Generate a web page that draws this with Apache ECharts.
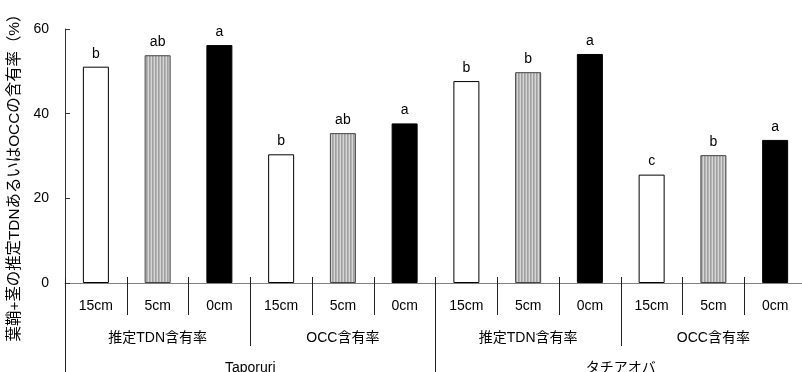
<!DOCTYPE html>
<html>
<head>
<meta charset="utf-8">
<script src="https://cdn.jsdelivr.net/npm/echarts@6/dist/echarts.min.js"></script>
<style>html,body{margin:0;padding:0;background:#fff;}#c{width:802px;height:372px;}</style>
</head>
<body>
<div id="c"></div>
<script>
const depths = ['15cm','5cm','0cm','15cm','5cm','0cm','15cm','5cm','0cm','15cm','5cm','0cm'];
const measures = ['推定TDN含有率','OCC含有率','推定TDN含有率','OCC含有率'];
const varieties = ['Taporuri','タチアオバ'];
const values = [51.1, 53.8, 56.2, 30.4, 35.4, 37.7, 47.7, 49.8, 54.1, 25.6, 30.2, 33.8];
const letters = ['b','ab','a','b','ab','a','b','b','a','c','b','a'];
const yTicks = [0, 20, 40, 60];

const FONT = '"Liberation Sans", Arial, "Noto Sans CJK JP", sans-serif';

// striped pattern for the 5cm bars
const pc = document.createElement('canvas');
pc.width = 3; pc.height = 4;
const px = pc.getContext('2d');
const cols = ['#b4b4b4', '#d6d6d6', '#a0a0a0'];
cols.forEach((c, i) => { px.fillStyle = c; px.fillRect(i, 0, 1, 4); });

function styleFor(i) {
  const k = i % 3;
  if (k === 0) return { color: '#ffffff', borderColor: '#000000', borderWidth: 1 };
  if (k === 1) return { color: { image: pc, repeat: 'repeat' }, borderColor: '#444444', borderWidth: 1 };
  return { color: '#000000', borderColor: '#000000', borderWidth: 1 };
}

const chart = echarts.init(document.getElementById('c'), null, { renderer: 'canvas' });
const tickColor = '#222';
chart.setOption({
  animation: false,
  textStyle: { fontFamily: FONT },
  grid: { left: 65, top: 29, width: 741, height: 254, containLabel: false, outerBoundsMode: 'none' },
  xAxis: [
    {
      type: 'category', data: depths, position: 'bottom',
      axisLine: { show: true, lineStyle: { color: '#808080', width: 1 } },
      axisTick: { show: true, alignWithLabel: false, interval: 0, length: 32, lineStyle: { color: tickColor } },
      axisLabel: { interval: 0, margin: 16, fontSize: 14, color: '#000', fontFamily: FONT }
    },
    {
      type: 'category', data: measures, position: 'bottom',
      axisLine: { show: false },
      axisTick: { show: true, interval: 0, length: 63, lineStyle: { color: tickColor } },
      axisLabel: { interval: 0, margin: 48, fontSize: 14, color: '#000', fontFamily: FONT }
    },
    {
      type: 'category', data: varieties, position: 'bottom',
      axisLine: { show: false },
      axisTick: { show: true, interval: 0, length: 100, lineStyle: { color: tickColor } },
      axisLabel: { interval: 0, margin: 78, fontSize: 14, color: '#000', fontFamily: FONT }
    },
    {
      type: 'category', data: depths, position: 'bottom',
      axisLine: { show: false },
      axisTick: { show: true, inside: true, interval: 0, length: 6, lineStyle: { color: tickColor } },
      axisLabel: { show: false }
    }
  ],
  yAxis: {
    type: 'value', min: 0, max: 60, interval: 20,
    name: '葉鞘+茎の推定TDNあるいはOCCの含有率（%）',
    nameLocation: 'middle', nameRotate: 90, nameGap: 41,
    nameTextStyle: { fontSize: 15.4, color: '#000', fontFamily: FONT, padding: [0, 36, 0, 0] },
    axisLine: { show: true, lineStyle: { color: '#333', width: 1 } },
    axisTick: { show: true, inside: true, length: 5, lineStyle: { color: '#333' } },
    axisLabel: { fontSize: 14, color: '#000', margin: 16, fontFamily: FONT,
      customValues: yTicks },
    splitLine: { show: false }
  },
  series: [{
    type: 'bar', xAxisIndex: 0, barWidth: 26,
    data: values.map((v, i) => ({ value: v, itemStyle: styleFor(i) })),
    label: {
      show: true, position: 'top', distance: 6, fontSize: 14, color: '#000', fontFamily: FONT,
      formatter: p => letters[p.dataIndex]
    }
  }]
});
</script>
</body>
</html>
